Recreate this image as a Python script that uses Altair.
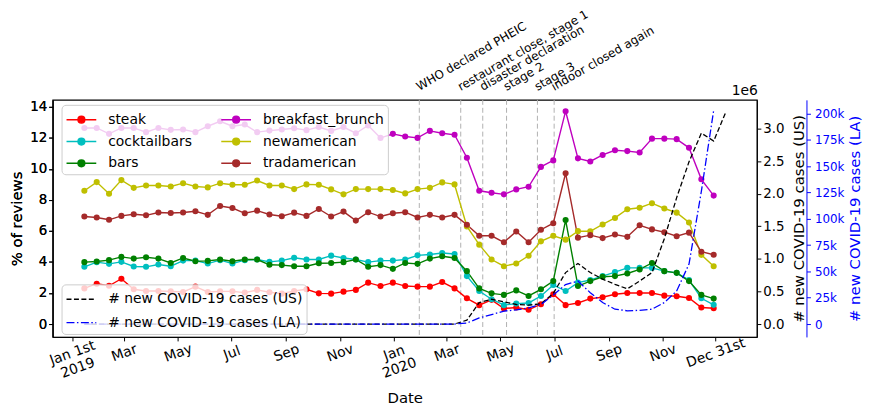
import json
import altair as alt
import pandas as pd

# ---------------- data ----------------
period_dates = pd.date_range("2019-01-15", periods=52, freq="14D")
covid_dates = pd.date_range("2019-01-15", periods=53, freq="14D")

categories = ["steak", "cocktailbars", "bars", "breakfast_brunch", "newamerican", "tradamerican"]
cat_colors = ["#ff0000", "#00bfbf", "#008000", "#bf00bf", "#bfbf00", "#a52a2a"]

steak = [2.30, 2.60, 2.47, 2.92, 2.24, 2.13, 2.13, 2.11, 2.07, 2.41, 2.07, 2.11, 2.11, 2.03, 2.20, 2.05, 1.96, 2.13,
         2.24, 1.98, 1.96, 2.09, 2.20, 2.67, 2.45, 2.67, 2.45, 2.41, 2.41, 2.71, 2.30, 1.66, 1.22, 1.56, 1.00, 1.07,
         0.92, 1.28, 1.92, 1.22, 1.36, 1.64, 1.73, 1.92, 2.00, 2.00, 2.00, 1.83, 1.79, 1.68, 1.07, 1.02]
cocktailbars = [3.69, 3.99, 3.88, 4.01, 3.71, 3.69, 3.84, 3.73, 4.09, 4.09, 3.90, 4.12, 3.90, 4.12, 4.16, 4.01, 4.09, 4.27,
                4.16, 4.16, 4.41, 4.26, 4.16, 3.99, 4.09, 4.09, 4.16, 4.43, 4.48, 4.58, 4.52, 3.09, 2.13, 1.60, 1.22, 1.32,
                1.36, 1.81, 2.52, 2.13, 2.67, 2.84, 3.09, 3.35, 3.62, 3.62, 3.62, 3.41, 3.30, 2.84, 1.66, 1.24]
bars = [3.99, 4.03, 4.12, 4.33, 4.22, 4.31, 4.22, 3.94, 4.26, 4.05, 4.07, 4.16, 4.05, 4.16, 4.16, 3.82, 3.80, 3.73,
        3.73, 3.92, 3.94, 3.99, 4.16, 3.69, 3.80, 3.56, 3.94, 3.88, 4.22, 4.37, 4.26, 3.41, 2.30, 1.98, 1.88, 2.17,
        1.81, 2.24, 2.77, 6.70, 2.45, 2.77, 3.05, 3.09, 3.26, 3.52, 3.94, 3.41, 3.30, 2.77, 1.88, 1.64]
breakfast_brunch = [12.64, 12.64, 12.26, 12.64, 12.64, 12.37, 12.64, 12.52, 12.54, 12.37, 12.75, 13.07, 12.75, 12.86,
                    12.37, 12.47, 12.54, 12.62, 12.50, 12.70, 12.45, 12.70, 12.30, 12.80, 12.00, 12.26, 12.09, 12.00,
                    12.45, 12.30, 12.20, 10.72, 8.59, 8.46, 8.36, 8.68, 8.85, 10.13, 10.55, 13.72, 10.68, 10.48,
                    10.90, 11.20, 11.15, 11.06, 11.95, 11.95, 11.92, 11.36, 9.33, 8.28]
newamerican = [8.59, 9.15, 8.40, 9.28, 8.78, 8.93, 8.93, 8.87, 9.08, 8.87, 8.81, 9.08, 8.98, 8.98, 9.25, 8.93, 8.93, 8.70,
               9.00, 8.98, 8.68, 8.36, 8.70, 8.70, 8.70, 8.64, 8.42, 8.70, 8.78, 9.13, 9.00, 6.29, 5.12, 4.16, 3.73, 3.90,
               4.40, 5.33, 5.69, 5.44, 5.99, 5.98, 6.42, 6.84, 7.40, 7.50, 7.79, 7.45, 7.18, 6.55, 4.46, 3.73]
tradamerican = [6.93, 6.87, 6.72, 6.97, 7.08, 7.01, 7.19, 7.16, 7.19, 7.27, 7.04, 7.61, 7.48, 7.14, 7.31, 7.06, 6.95, 7.18,
                6.97, 7.42, 6.93, 7.25, 6.67, 7.21, 6.93, 7.14, 7.21, 6.87, 7.04, 6.87, 7.04, 6.40, 5.69, 5.69, 5.27, 5.97,
                5.27, 6.08, 6.50, 9.72, 5.57, 5.73, 5.54, 5.77, 5.62, 6.37, 6.10, 5.92, 5.66, 5.89, 4.66, 4.47]

# new COVID-19 cases per two weeks
us_cases_millions = [0, 0, 0, 0, 0, 0, 0, 0, 0, 0, 0, 0, 0, 0, 0, 0, 0, 0, 0, 0, 0, 0, 0, 0, 0, 0, 0, 0, 0, 0, 0,
                     0.06, 0.33, 0.38, 0.34, 0.30, 0.29, 0.31, 0.47, 0.79, 0.93, 0.79, 0.69, 0.61, 0.54, 0.66, 0.79,
                     1.31, 1.94, 2.49, 2.93, 2.81, 3.26]
la_cases_thousands = [0, 0, 0, 0, 0, 0, 0, 0, 0, 0, 0, 0, 0, 0, 0, 0, 0, 0, 0, 0, 0, 0, 0, 0, 0, 0, 0, 0, 0, 0, 0,
                      1.0, 5.8, 9.0, 12.3, 13.4, 15.3, 18.5, 27.5, 37.5, 40.8, 29.8, 20.4, 14.1, 12.6, 13.0, 14.1,
                      20.4, 31.4, 57.0, 126.0, 203.0]
covid_names = ["# new COVID-19 cases (US)", "# new COVID-19 cases (LA)"]

event_dates = ["2020-01-30", "2020-03-17", "2020-04-11", "2020-05-08", "2020-06-12", "2020-07-01"]
event_labels = ["WHO declared PHEIC", "restaurant close, stage 1", "disaster declaration",
                "stage 2", "stage 3", "indoor closed again"]

tick_dates = ["2019-01-01", "2019-03-01", "2019-05-01", "2019-07-01", "2019-09-01", "2019-11-01",
              "2020-01-01", "2020-03-01", "2020-05-01", "2020-07-01", "2020-09-01", "2020-11-01", "2020-12-31"]
tick_labels = [["Jan 1st", "2019"], "Mar", "May", "Jul", "Sep", "Nov", ["Jan", "2020"],
               "Mar", "May", "Jul", "Sep", "Nov", "Dec 31st"]

# ---------------- tables ----------------
def iso(d):
    return pd.Timestamp(d).strftime("%Y-%m-%dT00:00:00")

series = [steak, cocktailbars, bars, breakfast_brunch, newamerican, tradamerican]
rows = []
for cat, vals in zip(categories, series):
    for d, v in zip(period_dates, vals):
        rows.append({"date": iso(d), "category": cat, "value": v})
df = pd.DataFrame(rows)

df_us = pd.DataFrame({"date": [iso(d) for d in covid_dates], "cases": us_cases_millions, "series": covid_names[0]})
df_la = pd.DataFrame({"date": [iso(d) for d in covid_dates[:len(la_cases_thousands)]],
                      "cases": la_cases_thousands, "series": covid_names[1]})
df_ev = pd.DataFrame({"date": [iso(d) for d in event_dates], "label": event_labels})

# ---------------- encodings ----------------
FONT = "DejaVu Sans"
x_domain = [alt.DateTime(year=2018, month=12, date=10), alt.DateTime(year=2021, month=2, date=16)]
x_values = [alt.DateTime(year=int(s[:4]), month=int(s[5:7]), date=int(s[8:])) for s in tick_dates]
label_expr = (json.dumps(tick_labels) + "[indexof(" + json.dumps(tick_dates) +
              ", timeFormat(datum.value, '%Y-%m-%d'))]")
x_axis = alt.Axis(values=x_values, labelExpr=label_expr, title="Date", labelAngle=340,
                  labelAlign="center", labelBaseline="middle", labelPadding=12, tickSize=4,
                  labelFontSize=14, titleFontSize=15, titlePadding=8, grid=False)
x_enc = alt.X("date:T", scale=alt.Scale(domain=x_domain), axis=x_axis)

y_pct = alt.Y("value:Q", scale=alt.Scale(domain=[-0.83, 14.45], nice=False, zero=False),
              axis=alt.Axis(orient="left", values=list(range(0, 15, 2)), title="% of reviews",
                            labelFontSize=13.5, titleFontSize=15, tickSize=4, titlePadding=5, grid=False))

# symbol: a short line with a dot in the middle (drawn 30px wide in a 20px layout box)
legend_symbol = "M-1.5,0L1.5,0M-0.34,0A0.34,0.34,0,1,1,0.34,0A0.34,0.34,0,1,1,-0.34,0"
color_enc = alt.Color("category:N",
                      scale=alt.Scale(domain=categories, range=cat_colors),
                      legend=alt.Legend(title=None, orient="none", legendX=9, legendY=5, columns=2,
                                        symbolType=legend_symbol, symbolSize=400, symbolStrokeWidth=1.5,
                                        symbolOffset=5, labelOffset=16, labelLimit=400,
                                        labelFontSize=14, columnPadding=26, rowPadding=4,
                                        padding=4, fillColor="rgba(255,255,255,0.8)", strokeColor="#cccccc",
                                        cornerRadius=4, labelFont=FONT))

rules = alt.Chart(df_ev).mark_rule(color="#b0b0b0", strokeDash=[5, 3], strokeWidth=1).encode(x=x_enc)

lines = alt.Chart(df).mark_line(strokeWidth=1.4).encode(x=x_enc, y=y_pct, color=color_enc,
                                                        detail="category:N")
points = alt.Chart(df).mark_point(filled=True, size=38, opacity=1).encode(x=x_enc, y=y_pct, color=color_enc)

covid_legend = alt.Legend(title=None, orient="none", legendX=9, legendY=186, symbolType="M-1.5,0L1.5,0",
                          symbolSize=400, symbolStrokeWidth=1.3, symbolOffset=5, labelOffset=16,
                          labelLimit=400, labelFontSize=14, rowPadding=5.5, padding=4,
                          fillColor="rgba(255,255,255,0.8)", strokeColor="#cccccc",
                          cornerRadius=4, labelFont=FONT)
stroke_enc = alt.Stroke("series:N", scale=alt.Scale(domain=covid_names, range=["black", "blue"]),
                        legend=covid_legend)
dash_enc = alt.StrokeDash("series:N", scale=alt.Scale(domain=covid_names, range=[[5, 2.5], [8, 2.5, 1.5, 2.5]]),
                          legend=covid_legend)

us_line = alt.Chart(df_us).mark_line(strokeWidth=1.3).encode(
    x=x_enc,
    y=alt.Y("cases:Q", scale=alt.Scale(domain=[-0.198, 3.441], nice=False, zero=False),
            axis=alt.Axis(orient="right", values=[0, 0.5, 1.0, 1.5, 2.0, 2.5, 3.0], format=".1f",
                          title="# new COVID-19 cases (US)", titleAngle=270, titleBaseline="top",
                          labelFontSize=13.5, titleFontSize=15, tickSize=4, titlePadding=8, grid=False)),
    stroke=stroke_enc, strokeDash=dash_enc)

la_line = alt.Chart(df_la).mark_line(strokeWidth=1.3).encode(
    x=x_enc,
    y=alt.Y("cases:Q", scale=alt.Scale(domain=[-12.25, 212.9], nice=False, zero=False),
            axis=alt.Axis(orient="right", offset=50, values=[0, 25, 50, 75, 100, 125, 150, 175, 200],
                          labelExpr="datum.value == 0 ? '0' : datum.value + 'k'",
                          title="# new COVID-19 cases (LA)", titleAngle=270, titleBaseline="top",
                          labelColor="blue", titleColor="blue", tickColor="blue", domainColor="blue",
                          labelFontSize=12, titleFontSize=15, tickSize=4, labelPadding=4,
                          titlePadding=4, grid=False)),
    stroke=stroke_enc, strokeDash=dash_enc)

ev_text = alt.Chart(df_ev).mark_text(angle=330, align="left", baseline="alphabetic", fontSize=12,
                                     font=FONT, color="black").encode(
    x=x_enc, y=alt.value(-9), text="label:N")

sci_text = alt.Chart(df_ev.head(1)).mark_text(align="right", baseline="bottom", fontSize=14,
                                              font=FONT, color="black").encode(
    x=alt.value(711), y=alt.value(-2), text=alt.value("1e6"))

chart = alt.layer(rules, lines, points, us_line, la_line, ev_text, sci_text).resolve_scale(
    y="independent"
).properties(
    width=710, height=239,
    padding={"left": 45, "top": 91, "right": 108, "bottom": 68},
    autosize=alt.AutoSizeParams(type="none"),
    background="white",
).configure_view(stroke="black", strokeWidth=1.2).configure_axis(
    labelFont=FONT, titleFont=FONT, labelColor="black", titleColor="black",
    domainColor="black", tickColor="black", titleFontWeight="normal"
).configure_text(font=FONT)

chart.save("out.html", embed_options={"renderer": "svg", "actions": False})
